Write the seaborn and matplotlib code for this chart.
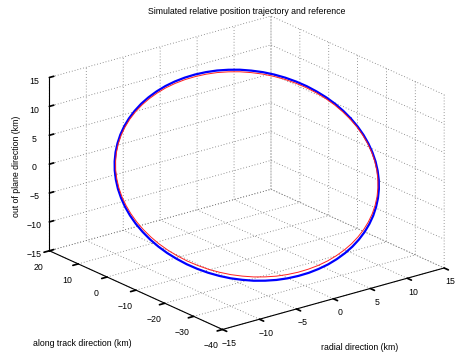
import matplotlib
matplotlib.use('Agg')
import matplotlib.pyplot as plt
import seaborn as sns

# ================= data (km), sampled every 5 deg of orbit phase =================
sim_radial = [14.1, 14.05, 13.89, 13.62, 13.25, 12.78, 12.21, 11.55, 10.8, 9.97, 9.06, 8.09,
              7.05, 5.96, 4.82, 3.65, 2.45, 1.23, 0, -1.23, -2.45, -3.65, -4.82, -5.96,
              -7.05, -8.09, -9.06, -9.97, -10.8, -11.55, -12.21, -12.78, -13.25, -13.62, -13.89, -14.05,
              -14.1, -14.05, -13.89, -13.62, -13.25, -12.78, -12.21, -11.55, -10.8, -9.97, -9.06, -8.09,
              -7.05, -5.96, -4.82, -3.65, -2.45, -1.23, 0, 1.23, 2.45, 3.65, 4.82, 5.96,
              7.05, 8.09, 9.06, 9.97, 10.8, 11.55, 12.21, 12.78, 13.25, 13.62, 13.89, 14.05]
sim_along = [-10, -12.46, -14.9, -17.3, -19.64, -21.92, -24.1, -26.18, -28.13, -29.94, -31.6, -33.1,
             -34.42, -35.56, -36.5, -37.24, -37.77, -38.09, -38.2, -38.09, -37.77, -37.24, -36.5, -35.56,
             -34.42, -33.1, -31.6, -29.94, -28.13, -26.18, -24.1, -21.92, -19.64, -17.3, -14.9, -12.46,
             -10, -7.54, -5.1, -2.7, -0.36, 1.92, 4.1, 6.18, 8.13, 9.94, 11.6, 13.1,
             14.42, 15.56, 16.5, 17.24, 17.77, 18.09, 18.2, 18.09, 17.77, 17.24, 16.5, 15.56,
             14.42, 13.1, 11.6, 9.94, 8.13, 6.18, 4.1, 1.92, -0.36, -2.7, -5.1, -7.54]
sim_out = [4.37, 3.57, 2.73, 1.87, 0.99, 0.1, -0.79, -1.67, -2.55, -3.42, -4.26, -5.07,
           -5.84, -6.58, -7.27, -7.91, -8.48, -9.0, -9.46, -9.83, -10.15, -10.38, -10.55, -10.64,
           -10.64, -10.58, -10.42, -10.21, -9.91, -9.54, -9.1, -8.6, -8.02, -7.41, -6.73, -6.0,
           -5.23, -4.43, -3.58, -2.73, -1.85, -0.96, -0.07, 0.81, 1.69, 2.56, 3.4, 4.21,
           4.99, 5.72, 6.41, 7.05, 7.62, 8.14, 8.6, 8.98, 9.29, 9.53, 9.69, 9.78,
           9.78, 9.72, 9.56, 9.35, 9.05, 8.68, 8.24, 7.74, 7.16, 6.55, 5.87, 5.14]

ref_radial = [14, 13.95, 13.79, 13.52, 13.16, 12.69, 12.12, 11.47, 10.72, 9.9, 9, 8.03,
              7, 5.92, 4.79, 3.62, 2.43, 1.22, 0, -1.22, -2.43, -3.62, -4.79, -5.92,
              -7, -8.03, -9, -9.9, -10.72, -11.47, -12.12, -12.69, -13.16, -13.52, -13.79, -13.95,
              -14, -13.95, -13.79, -13.52, -13.16, -12.69, -12.12, -11.47, -10.72, -9.9, -9, -8.03,
              -7, -5.92, -4.79, -3.62, -2.43, -1.22, 0, 1.22, 2.43, 3.62, 4.79, 5.92,
              7, 8.03, 9, 9.9, 10.72, 11.47, 12.12, 12.69, 13.16, 13.52, 13.79, 13.95]
ref_along = [-10, -12.44, -14.86, -17.25, -19.58, -21.83, -24, -26.06, -28, -29.8, -31.45, -32.94,
             -34.25, -35.38, -36.31, -37.05, -37.57, -37.89, -38, -37.89, -37.57, -37.05, -36.31, -35.38,
             -34.25, -32.94, -31.45, -29.8, -28, -26.06, -24, -21.83, -19.58, -17.25, -14.86, -12.44,
             -10, -7.56, -5.14, -2.75, -0.42, 1.83, 4, 6.06, 8, 9.8, 11.45, 12.94,
             14.25, 15.38, 16.31, 17.05, 17.57, 17.89, 18, 17.89, 17.57, 17.05, 16.31, 15.38,
             14.25, 12.94, 11.45, 9.8, 8, 6.06, 4, 1.83, -0.42, -2.75, -5.14, -7.56]
ref_out = [4.31, 3.54, 2.73, 1.92, 1.07, 0.23, -0.62, -1.47, -2.31, -3.14, -3.94, -4.72,
           -5.46, -6.16, -6.82, -7.43, -7.98, -8.47, -8.91, -9.28, -9.57, -9.8, -9.95, -10.04,
           -10.04, -9.98, -9.83, -9.63, -9.34, -8.99, -8.57, -8.09, -7.54, -6.95, -6.3, -5.6,
           -4.87, -4.1, -3.3, -2.48, -1.64, -0.79, 0.06, 0.91, 1.75, 2.58, 3.38, 4.16,
           4.89, 5.6, 6.26, 6.87, 7.42, 7.91, 8.35, 8.71, 9.01, 9.23, 9.39, 9.48,
           9.48, 9.42, 9.27, 9.07, 8.78, 8.43, 8.01, 7.53, 6.98, 6.39, 5.74, 5.04]

radial_ticks = [-15, -10, -5, 0, 5, 10, 15]
along_ticks = [-40, -30, -20, -10, 0, 10, 20]
out_ticks = [-15, -10, -5, 0, 5, 10, 15]

# ================= style =================
sns.set_theme(style='white')
plt.rcParams['font.family'] = ['Liberation Sans', 'DejaVu Sans']
plt.rcParams['font.size'] = 6.3
plt.rcParams['axes.unicode_minus'] = True
for k in ['text.color', 'xtick.color', 'ytick.color', 'axes.labelcolor']:
    plt.rcParams[k] = 'black'

fig = plt.figure(figsize=(4.57, 3.56), dpi=100)
fig.patch.set_facecolor('white')
S = 426
cx, cy = 241.0, 177.5   # axes centre in pixels from lower left
ax = fig.add_axes([(cx - S / 2) / 457, (cy - S / 2) / 356, S / 457, S / 356],
                  projection='3d', proj_type='ortho')
ax.view_init(elev=20.8, azim=-128)
ax.set_box_aspect((1, 1, 0.659))

# close the loops
ax.plot(sim_radial + sim_radial[:1], sim_along + sim_along[:1], sim_out + sim_out[:1],
        color='#0000ff', lw=1.6)
ax.plot(ref_radial + ref_radial[:1], ref_along + ref_along[:1], ref_out + ref_out[:1],
        color='#ff2020', lw=0.7)

ax.set_xlim(-15, 15)
ax.set_ylim(-40, 20)
ax.set_zlim(-15, 15)
ax.set_xticks(radial_ticks)
ax.set_yticks(along_ticks)
ax.set_zticks(out_ticks)
ax.tick_params(labelsize=6.3)
ax.xaxis.set_tick_params(pad=-2)
ax.yaxis.set_tick_params(pad=0)
ax.zaxis.set_tick_params(pad=-2)

for axis in [ax.xaxis, ax.yaxis, ax.zaxis]:
    axis.set_pane_color((1, 1, 1, 1))
    axis.pane.set_edgecolor('white')
    axis.line.set_color('black')
    axis.line.set_linewidth(0.8)
    axis._axinfo['grid']['color'] = '0.45'
    axis._axinfo['grid']['linewidth'] = 0.6
    axis._axinfo['grid']['linestyle'] = (0, (1, 2.5))
for axis in [ax.xaxis, ax.yaxis]:
    axis._axinfo['tick']['inward_factor'] = 0.3
    axis._axinfo['tick']['outward_factor'] = 0.0
ax.zaxis._axinfo['tick']['inward_factor'] = 0.0
ax.zaxis._axinfo['tick']['outward_factor'] = 0.25
ax.grid(True)

fig.text(247 / 457, 1 - 11 / 356, 'Simulated relative position trajectory and reference',
         ha='center', va='center', fontsize=6.3)
fig.text(33 / 457, 1 - 343 / 356, 'along track direction (km)', ha='left', va='center', fontsize=6.3)
fig.text(360 / 457, 1 - 348 / 356, 'radial direction (km)', ha='center', va='center', fontsize=6.3)
fig.text(17 / 457, 1 - 166 / 356, 'out of plane direction (km)', ha='center', va='center',
         rotation=90, fontsize=6.3)

fig.savefig('out.png', dpi=100, facecolor='white')
